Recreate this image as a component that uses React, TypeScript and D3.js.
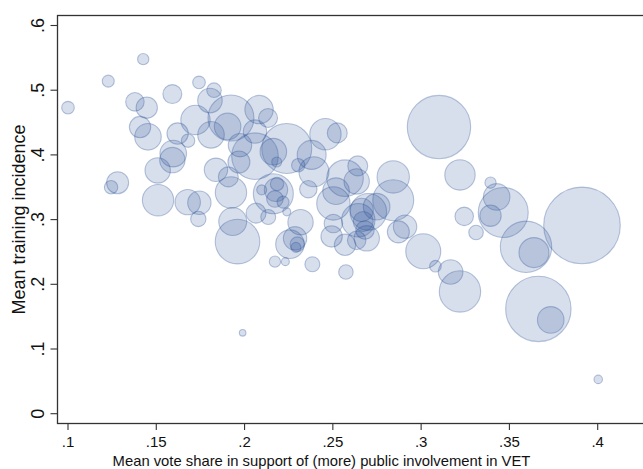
import React from "react";
import * as d3 from "d3";

// Mean vote share (x), mean training incidence (y), bubble weight (size)
const voteShare = [
  0.100, 0.1228, 0.1426, 0.1379, 0.1446, 0.1591, 0.1742, 0.1408, 0.1453, 0.1621,
  0.1680, 0.1596, 0.1591, 0.1508, 0.1281, 0.1244, 0.1510, 0.1678, 0.1744, 0.1738,
  0.1827, 0.1804, 0.1722, 0.1923, 0.1810, 0.1904, 0.2082, 0.2133, 0.1838, 0.1908,
  0.1923, 0.1933, 0.1960, 0.2065, 0.2134, 0.2163, 0.2178, 0.2184, 0.2172, 0.2097,
  0.2218, 0.2239, 0.2172, 0.2231, 0.1968, 0.1974, 0.2059, 0.2059, 0.2239, 0.2163,
  0.2182, 0.1989, 0.2317, 0.2257, 0.2286, 0.2299, 0.2291, 0.2384, 0.2361, 0.2304,
  0.2380, 0.2393, 0.2458, 0.2525, 0.2569, 0.2641, 0.2635, 0.2518, 0.2503, 0.2701,
  0.2663, 0.2672, 0.2682, 0.2692, 0.2644, 0.2748, 0.2503, 0.2493, 0.2569, 0.2635,
  0.2574, 0.2842, 0.2842, 0.2909, 0.2871, 0.3012, 0.3081, 0.3167, 0.3220, 0.3101,
  0.3220, 0.3393, 0.3428, 0.3465, 0.3393, 0.3244, 0.3311, 0.3594, 0.3639, 0.3911,
  0.3664, 0.3734, 0.4003,
];
const trainingIncidence = [
  0.473, 0.514, 0.548, 0.482, 0.473, 0.494, 0.512, 0.443, 0.428, 0.433,
  0.422, 0.402, 0.392, 0.376, 0.357, 0.350, 0.330, 0.327, 0.326, 0.301,
  0.500, 0.484, 0.454, 0.457, 0.431, 0.444, 0.470, 0.457, 0.377, 0.366,
  0.342, 0.297, 0.266, 0.310, 0.304, 0.340, 0.346, 0.355, 0.332, 0.346,
  0.327, 0.312, 0.235, 0.235, 0.389, 0.415, 0.436, 0.398, 0.410, 0.405,
  0.389, 0.125, 0.296, 0.262, 0.271, 0.262, 0.257, 0.231, 0.347, 0.384,
  0.400, 0.374, 0.432, 0.434, 0.364, 0.383, 0.359, 0.344, 0.325, 0.312,
  0.315, 0.297, 0.284, 0.271, 0.299, 0.320, 0.294, 0.274, 0.261, 0.268,
  0.219, 0.366, 0.330, 0.289, 0.281, 0.251, 0.228, 0.219, 0.189, 0.443,
  0.369, 0.357, 0.335, 0.311, 0.306, 0.305, 0.280, 0.258, 0.249, 0.291,
  0.162, 0.145, 0.053,
];
const weight = [
  40, 36, 32, 86, 114, 90, 40, 114, 177, 114,
  45, 177, 161, 161, 121, 45, 246, 161, 137, 59,
  53, 151, 216, 529, 177, 177, 202, 90, 137, 100,
  246, 196, 497, 100, 56, 400, 137, 45, 69, 25,
  36, 16, 32, 16, 121, 137, 137, 543, 625, 177,
  25, 11, 161, 204, 137, 53, 25, 56, 76, 45,
  210, 225, 246, 100, 335, 100, 161, 177, 279, 335,
  137, 100, 86, 161, 279, 177, 86, 114, 114, 86,
  53, 262, 420, 137, 121, 306, 34, 151, 428, 1005,
  231, 32, 177, 625, 114, 86, 53, 660, 225, 1467,
  1069, 177, 18,
];

const xTicks = [0.1, 0.15, 0.2, 0.25, 0.3, 0.35, 0.4];
const yTicks = [0, 0.1, 0.2, 0.3, 0.4, 0.5, 0.6];
const xTitle = "Mean vote share in support of (more) public involvement in VET";
const yTitle = "Mean training incidence";

const fmt = (v: number) => (v === 0 ? "0" : String(v).replace(/^0/, ""));

export default function App() {
  const W = 643;
  const H = 469;
  const left = 57.5;
  const top = 15.5;
  const bottom = 423.5;
  const right = 660;

  const x = d3.scaleLinear().domain([0.1, 0.4]).range([68, 597.7]);
  const y = d3.scaleLinear().domain([0, 0.6]).range([413.7, 25.5]);
  const r = d3.scaleSqrt().domain([0, 1500]).range([0, Math.sqrt(1500)]);

  const pts = voteShare.map((v, i) => ({ x: v, y: trainingIncidence[i], w: weight[i] }));
  const font = "'Liberation Sans', Arial, Helvetica, sans-serif";

  return (
    <svg
      width={W}
      height={H}
      style={{ position: "absolute", left: 0, top: 0, background: "#fff" }}
      fontFamily={font}
    >
      <defs>
        <clipPath id="plot">
          <rect x={left} y={top} width={right - left} height={bottom - top} />
        </clipPath>
      </defs>
      <g clipPath="url(#plot)">
        {pts.map((p, i) => (
          <circle
            key={i}
            cx={x(p.x)}
            cy={y(p.y)}
            r={r(p.w)}
            fill="rgb(40,80,150)"
            fillOpacity={0.18}
            stroke="rgb(40,80,150)"
            strokeOpacity={0.32}
            strokeWidth={1.1}
          />
        ))}
      </g>
      <rect x={left} y={top} width={right - left} height={bottom - top} fill="none" stroke="#333" strokeWidth={1.3} />
      {xTicks.map((t) => (
        <g key={"x" + t}>
          <line x1={x(t)} x2={x(t)} y1={bottom} y2={bottom + 6.5} stroke="#333" strokeWidth={1.1} />
          <text x={x(t)} y={447} textAnchor="middle" fontSize={15} fill="#111">
            {fmt(t)}
          </text>
        </g>
      ))}
      {yTicks.map((t) => (
        <g key={"y" + t}>
          <line x1={left - 7} x2={left} y1={y(t)} y2={y(t)} stroke="#333" strokeWidth={1.1} />
          <text
            transform={`translate(43.5,${y(t)}) rotate(-90)`}
            textAnchor="middle"
            fontSize={18}
            fill="#111"
          >
            {fmt(t)}
          </text>
        </g>
      ))}
      <text x={321.5} y={466} textAnchor="middle" fontSize={14.8} fill="#111">
        {xTitle}
      </text>
      <text transform={`translate(25,219.5) rotate(-90)`} textAnchor="middle" fontSize={18} fill="#111">
        {yTitle}
      </text>
    </svg>
  );
}
